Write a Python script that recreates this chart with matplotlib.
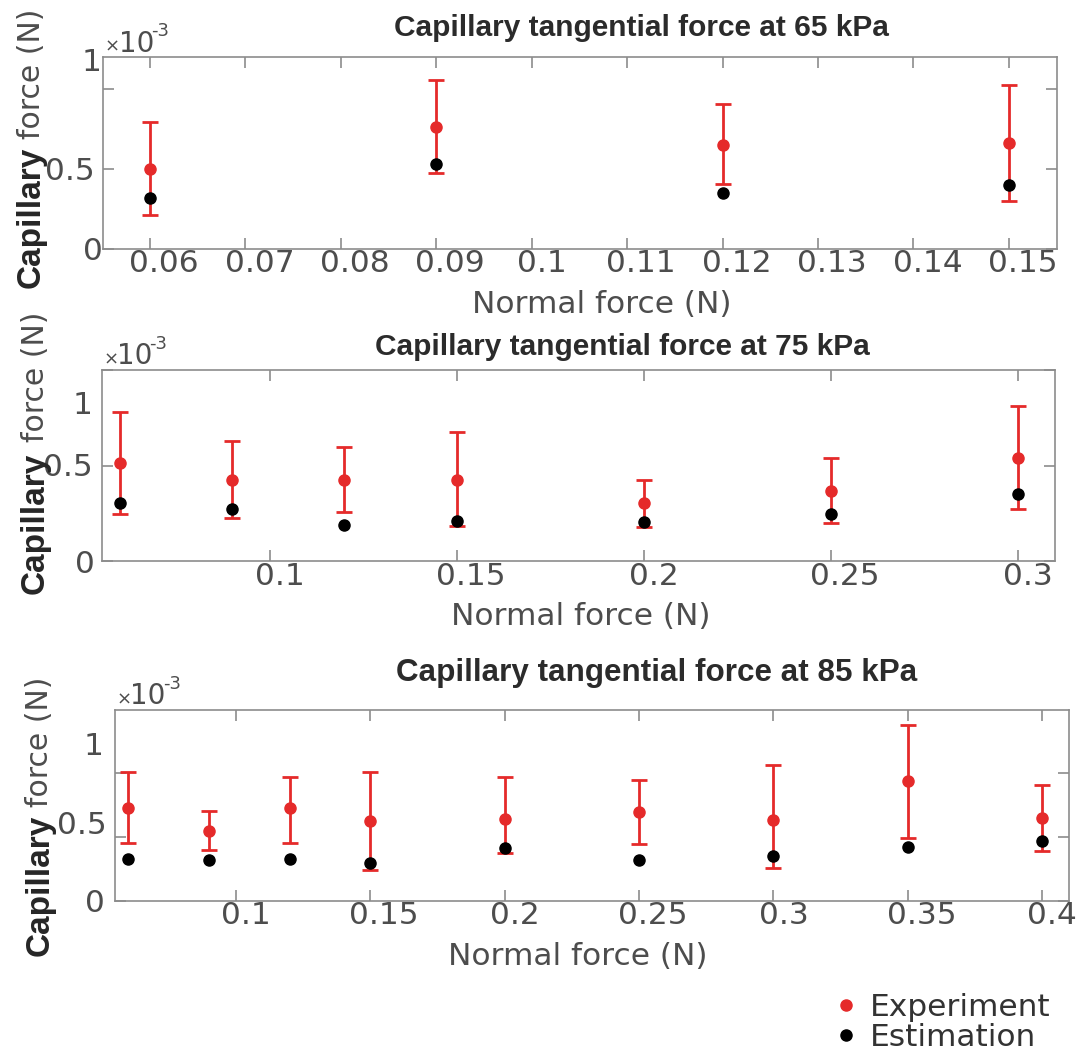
import matplotlib
matplotlib.use('Agg')
import matplotlib.pyplot as plt
from matplotlib.transforms import ScaledTranslation

# ---------------- data (capillary force in units of 1e-3 N) ----------------
normal_65 = [0.06, 0.09, 0.12, 0.15]
exp_65 = [0.502, 0.766, 0.653, 0.663]
exp_65_lo = [0.292, 0.290, 0.248, 0.363]
exp_65_hi = [0.292, 0.292, 0.252, 0.366]
est_65 = [0.316, 0.534, 0.350, 0.402]

normal_75 = [0.06, 0.09, 0.12, 0.15, 0.20, 0.25, 0.30]
exp_75 = [0.513, 0.426, 0.424, 0.424, 0.304, 0.369, 0.541]
exp_75_lo = [0.267, 0.201, 0.169, 0.239, 0.125, 0.169, 0.270]
exp_75_hi = [0.269, 0.204, 0.173, 0.254, 0.118, 0.170, 0.273]
est_75 = [0.306, 0.273, 0.187, 0.207, 0.203, 0.248, 0.349]

normal_85 = [0.06, 0.09, 0.12, 0.15, 0.20, 0.25, 0.30, 0.35, 0.40]
exp_85 = [0.730, 0.546, 0.730, 0.622, 0.640, 0.695, 0.633, 0.937, 0.647]
exp_85_lo = [0.276, 0.149, 0.276, 0.384, 0.262, 0.252, 0.375, 0.446, 0.256]
exp_85_hi = [0.281, 0.157, 0.243, 0.389, 0.333, 0.256, 0.434, 0.444, 0.260]
est_85 = [0.330, 0.316, 0.330, 0.297, 0.411, 0.320, 0.353, 0.418, 0.465]

titles = ['Capillary tangential force at 65 kPa',
          'Capillary tangential force at 75 kPa',
          'Capillary tangential force at 85 kPa']

xticks_65 = [0.06, 0.07, 0.08, 0.09, 0.10, 0.11, 0.12, 0.13, 0.14, 0.15]
xticklabels_65 = ['0.06', '0.07', '0.08', '0.09', '0.1', '0.11', '0.12', '0.13', '0.14', '0.15']
xticks_75 = [0.10, 0.15, 0.20, 0.25, 0.30]
xticklabels_75 = ['0.1', '0.15', '0.2', '0.25', '0.3']
xticks_85 = [0.10, 0.15, 0.20, 0.25, 0.30, 0.35, 0.40]
xticklabels_85 = ['0.1', '0.15', '0.2', '0.25', '0.3', '0.35', '0.4']
yticks = [0.0, 0.5, 1.0]
yticklabels = ['0', '0.5', '1']
legend_labels = ['Experiment', 'Estimation']

# ---------------- style / layout ----------------
RED = '#e52a2a'
TXT = '#4d4d4d'
SPINE = '#8c8c8c'
TITLE_C = '#2b2b2b'
LBL_DARK = '#262626'
TICK_FS = 22.5

fig = plt.figure(figsize=(10.83, 10.55), dpi=100)


def shift(dx_px, dy_px=0.0):
    return ScaledTranslation(dx_px / 100.0, dy_px / 100.0, fig.dpi_scale_trans)


panels = [
    dict(rect=[0.0954, 0.7644, 0.8802, 0.1811], x=normal_65, exp=exp_65, lo=exp_65_lo, hi=exp_65_hi,
         est=est_65, xlim=(0.0551, 0.155), ylim=(0, 1.2), xt=xticks_65, xtl=xticklabels_65,
         ylab_pos=[0.0, 0.5, 1.19], ylab_dx=[9, 0, 7], title=titles[0], tfs=21.5, tx=0.565, ty=1.110,
         xlx=0.523, xly=-0.339, ylx=-0.0668, yl1=0.163, yl2=0.914),
    dict(rect=[0.0938, 0.4682, 0.8805, 0.1811], x=normal_75, exp=exp_75, lo=exp_75_lo, hi=exp_75_hi,
         est=est_75, xlim=(0.0551, 0.31), ylim=(0, 1.0), xt=xticks_75, xtl=xticklabels_75,
         ylab_pos=[0.0, 0.503, 0.828], ylab_dx=[2, 0, 0], title=titles[1], tfs=21.5, tx=0.546, ty=1.080,
         xlx=0.503, xly=-0.333, ylx=-0.0604, yl1=0.198, yl2=0.963),
    dict(rect=[0.1059, 0.1463, 0.8809, 0.1811], x=normal_85, exp=exp_85, lo=exp_85_lo, hi=exp_85_hi,
         est=est_85, xlim=(0.0549, 0.41), ylim=(0, 1.5), xt=xticks_85, xtl=xticklabels_85,
         ylab_pos=[0.0, 0.614, 1.235], ylab_dx=[-1, 1, -2], title=titles[2], tfs=22.6, tx=0.568, ty=1.150,
         xlx=0.485, xly=-0.339, ylx=-0.0697, yl1=0.080, yl2=0.833),
]

handles = None
for p in panels:
    ax = fig.add_axes(p['rect'])
    ax.yaxis.remove_overlapping_locs = False
    eb = ax.errorbar(p['x'], p['exp'], yerr=[p['lo'], p['hi']], fmt='o', color=RED, ms=8,
                     elinewidth=2.0, capsize=6, capthick=2.0, zorder=2)
    est, = ax.plot(p['x'], p['est'], 'o', color='black', ms=8, zorder=3, linestyle='none')
    handles = [eb[0], est]
    ax.set_xlim(*p['xlim'])
    ax.set_ylim(*p['ylim'])
    for s in ax.spines.values():
        s.set_color(SPINE)
        s.set_linewidth(1.2)

    ax.set_xticks(p['xt'], labels=p['xtl'])
    ax.set_yticks(yticks, labels=['', '', ''])
    ax.set_yticks(p['ylab_pos'], labels=yticklabels, minor=True)
    ax.tick_params(which='major', direction='in', top=True, right=True, length=8, width=1.2,
                   color=SPINE, labelsize=TICK_FS, labelcolor=TXT)
    ax.tick_params(axis='x', which='major', pad=0.5)
    ax.tick_params(axis='x', which='minor', bottom=False, top=False)
    ax.tick_params(axis='y', which='minor', length=0, labelsize=TICK_FS, labelcolor=TXT, pad=6.5,
                   left=True, right=False)

    # text offsets as in the reference rendering
    for t, lab in zip(ax.xaxis.get_major_ticks(), p['xtl']):
        t.label1.set_transform(t.label1.get_transform() + shift(3.5 * len(lab)))
    for t, dx in zip(ax.yaxis.get_minor_ticks(), p['ylab_dx']):
        t.label1.set_transform(t.label1.get_transform() + shift(dx))

    ax.set_title(p['title'], x=p['tx'], y=p['ty'], pad=0, fontsize=p['tfs'], fontweight='bold',
                 family='Liberation Sans', color=TITLE_C, va='baseline')
    ax.set_xlabel('Normal force (N)', fontsize=22.5, color=TXT, va='baseline')
    ax.xaxis.set_label_coords(p['xlx'], p['xly'])

    ax.text(p['ylx'], p['yl1'], 'Capillary', transform=ax.transAxes, rotation=90, rotation_mode='anchor',
            ha='center', va='baseline', fontsize=24, fontweight='bold', family='Liberation Sans',
            color=LBL_DARK)
    ax.text(p['ylx'], p['yl2'], 'force (N)', transform=ax.transAxes, rotation=90, rotation_mode='anchor',
            ha='center', va='baseline', fontsize=21.5, color=TXT)

    # x10^-3 multiplier
    ax.annotate('×', xy=(0, 1), xycoords='axes fraction', xytext=(1.7 * 0.72, 5.5 * 0.72),
                textcoords='offset points', fontsize=13, color=TXT, va='baseline', ha='left')
    ax.annotate('10', xy=(0, 1), xycoords='axes fraction', xytext=(15.5 * 0.72, 5.5 * 0.72),
                textcoords='offset points', fontsize=20, color=TXT, va='baseline', ha='left')
    ax.annotate('-3', xy=(0, 1), xycoords='axes fraction', xytext=(48 * 0.72, 21 * 0.72),
                textcoords='offset points', fontsize=13, color=TXT, va='baseline', ha='left')

fig.legend(handles, legend_labels, loc='lower right', bbox_to_anchor=(0.97, 0.003), frameon=False,
           fontsize=22.5, labelcolor='#333333', handlelength=0.6, handletextpad=0.45,
           labelspacing=0.02, borderaxespad=0, borderpad=0, numpoints=1)

fig.savefig('out.png', dpi=100)
